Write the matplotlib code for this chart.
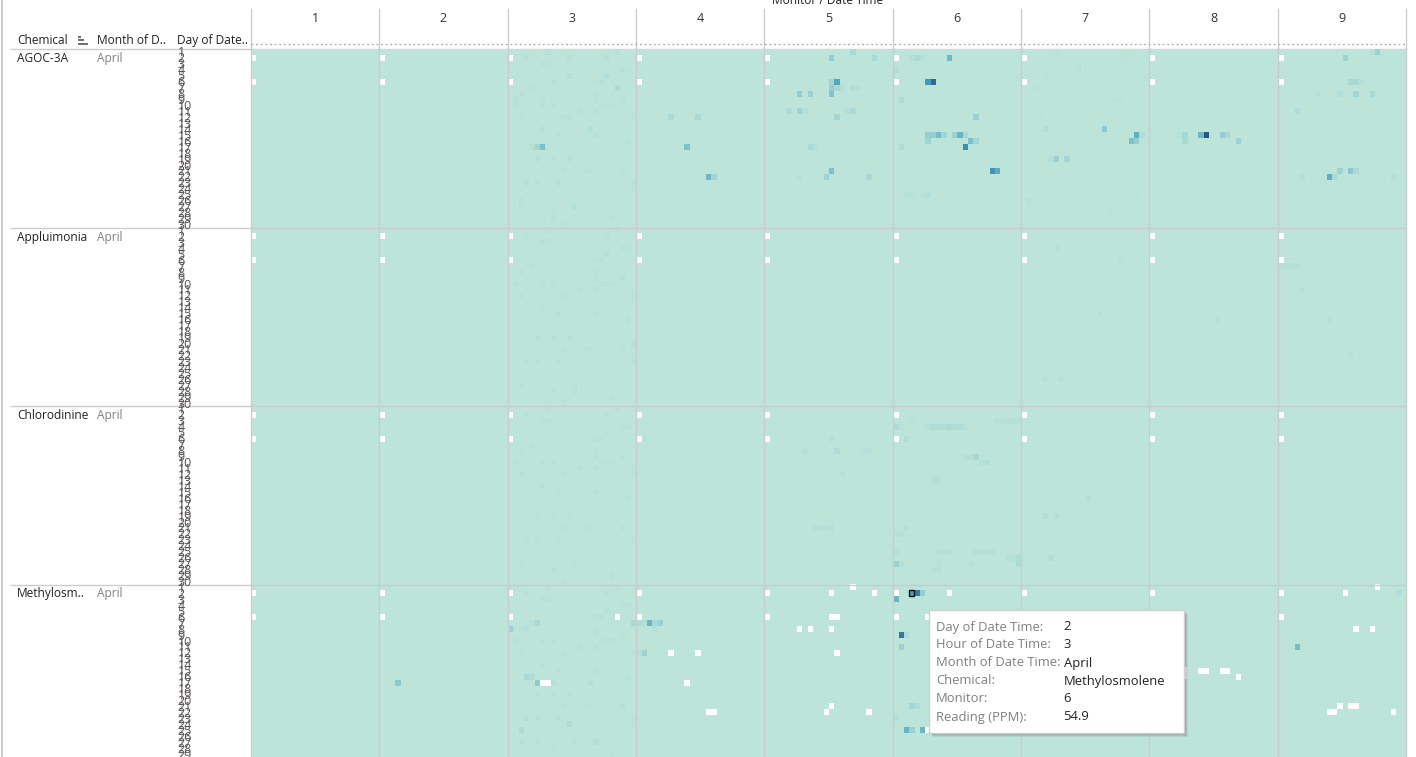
import numpy as np
import matplotlib
matplotlib.use("Agg")
import matplotlib.pyplot as plt
from matplotlib.colors import LinearSegmentedColormap, Normalize
from matplotlib.patches import Rectangle

plt.rcParams['font.family'] = ['Open Sans', 'DejaVu Sans']

W, H = 1416, 757

chemicals = ["AGOC-3A", "Appluimonia", "Chlorodinine", "Methylosm.."]
monitors = [1, 2, 3, 4, 5, 6, 7, 8, 9]
days = list(range(1, 31))
n_hours = 24

# (monitor, day, hour, reading), everything else is about 0
agoc_cells = [
    (3, 17, 4, 8), (3, 17, 5, 20), (3, 17, 6, 35), (3, 2, 11, 10), (3, 5, 11, 10), (3, 5, 18, 10),
    (3, 7, 20, 12), (3, 14, 15, 10), (3, 27, 12, 10), (3, 1, 7, 5), (3, 1, 20, 6), (3, 3, 6, 4),
    (3, 6, 8, 6), (3, 9, 1, 5), (3, 9, 6, 4), (3, 12, 11, 5), (3, 14, 6, 6), (3, 15, 16, 5),
    (3, 19, 5, 5), (3, 19, 11, 6), (3, 23, 3, 6), (3, 23, 9, 6), (3, 26, 2, 6), (3, 29, 8, 5),
    (4, 12, 6, 13), (4, 12, 11, 15), (4, 17, 9, 35), (4, 22, 13, 40), (4, 22, 14, 18),
    (5, 2, 12, 25), (5, 1, 16, 15), (5, 2, 20, 15), (5, 6, 12, 18), (5, 6, 13, 50),
    (5, 7, 12, 25), (5, 7, 13, 15), (5, 7, 14, 8), (5, 7, 16, 10), (5, 7, 17, 10),
    (5, 8, 6, 25), (5, 8, 8, 22), (5, 8, 12, 33),
    (5, 11, 4, 12), (5, 11, 6, 20), (5, 11, 7, 10), (5, 11, 15, 10), (5, 11, 16, 14),
    (5, 12, 13, 18), (5, 17, 8, 14), (5, 17, 9, 8), (5, 21, 12, 35),
    (5, 22, 6, 6), (5, 22, 11, 20), (5, 22, 19, 15),
    (6, 2, 3, 8), (6, 2, 4, 14), (6, 2, 5, 8), (6, 2, 10, 40), (6, 4, 0, 8),
    (6, 6, 6, 58), (6, 6, 7, 78), (6, 9, 1, 12), (6, 12, 15, 22),
    (6, 15, 6, 25), (6, 15, 7, 25), (6, 15, 8, 38), (6, 15, 9, 18), (6, 15, 11, 22),
    (6, 15, 12, 42), (6, 15, 13, 15), (6, 16, 6, 20), (6, 16, 14, 35), (6, 16, 15, 18),
    (6, 17, 1, 12), (6, 17, 13, 62), (6, 21, 18, 60), (6, 21, 19, 48),
    (6, 25, 2, 6), (6, 25, 3, 6), (6, 25, 5, 6), (6, 25, 6, 10),
    (7, 14, 4, 10), (7, 14, 15, 30), (7, 15, 21, 45), (7, 15, 22, 12),
    (7, 16, 20, 35), (7, 16, 21, 25), (7, 19, 5, 8), (7, 19, 6, 22), (7, 19, 8, 18),
    (7, 4, 10, 5), (7, 26, 1, 6),
    (8, 15, 5, 6), (8, 15, 6, 16), (8, 15, 9, 40), (8, 15, 10, 85), (8, 15, 13, 25), (8, 15, 14, 15),
    (8, 16, 6, 16), (8, 16, 16, 20),
    (9, 1, 17, 8), (9, 1, 18, 22), (9, 2, 12, 20), (9, 6, 13, 15), (9, 6, 14, 15), (9, 6, 15, 6),
    (9, 8, 7, 6), (9, 8, 11, 10), (9, 8, 14, 18), (9, 8, 17, 15), (9, 11, 3, 12),
    (9, 21, 11, 20), (9, 21, 13, 30), (9, 21, 14, 15),
    (9, 22, 4, 8), (9, 22, 9, 45), (9, 22, 10, 15), (9, 22, 21, 8),
]
appl_cells = [
    (9, 7, 0, 5), (9, 7, 1, 8), (9, 7, 2, 8), (9, 7, 3, 5), (9, 11, 4, 6), (9, 16, 9, 6), (9, 22, 13, 6),
    (8, 16, 12, 6), (7, 6, 18, 6), (7, 4, 6, 5), (7, 26, 7, 6), (7, 26, 4, 5), (7, 15, 14, 5),
    (3, 20, 23, 5), (3, 28, 12, 5),
]
chloro_cells = [
    (5, 6, 12, 8), (5, 8, 7, 8), (5, 8, 13, 12), (5, 8, 18, 5), (5, 8, 19, 5), (5, 12, 14, 6),
    (5, 21, 9, 5), (5, 21, 10, 9), (5, 21, 11, 4), (5, 21, 12, 8),
    (6, 3, 3, 6), (6, 3, 19, 6), (6, 3, 20, 6), (6, 3, 21, 8), (6, 3, 22, 10), (6, 3, 23, 8),
    (6, 4, 0, 12), (6, 4, 1, 4), (6, 4, 6, 8), (6, 4, 7, 12), (6, 4, 8, 12), (6, 4, 9, 12),
    (6, 4, 10, 14), (6, 4, 11, 12), (6, 4, 12, 12), (6, 4, 13, 5), (6, 6, 2, 10),
    (6, 9, 13, 5), (6, 9, 14, 10), (6, 9, 15, 16), (6, 10, 16, 9), (6, 10, 17, 9),
    (6, 13, 7, 6), (6, 13, 8, 6), (6, 21, 2, 10), (6, 22, 0, 6), (6, 22, 1, 10),
    (6, 25, 0, 8), (6, 25, 8, 6), (6, 25, 9, 6), (6, 25, 10, 10),
    (6, 25, 15, 8), (6, 25, 16, 8), (6, 25, 17, 8), (6, 25, 18, 8),
    (6, 26, 21, 8), (6, 26, 22, 4), (6, 26, 23, 12),
    (6, 27, 0, 22), (6, 27, 1, 8), (6, 27, 8, 5), (6, 27, 14, 6), (6, 27, 23, 12),
    (6, 28, 7, 8), (6, 28, 8, 5),
    (7, 26, 5, 10), (7, 19, 4, 7), (7, 19, 6, 7), (7, 16, 12, 7),
    (4, 6, 0, 6), (4, 6, 1, 4),
]
methyl_cells = [
    (2, 17, 3, 30),
    (3, 7, 5, 15), (3, 8, 0, 22), (3, 8, 3, 10), (3, 16, 3, 15), (3, 16, 4, 12),
    (3, 17, 5, 28), (3, 17, 8, 8), (3, 17, 15, 10), (3, 24, 11, 12), (3, 25, 2, 12),
    (3, 27, 16, 10), (3, 27, 5, 8), (3, 27, 12, 8), (3, 7, 23, 15),
    (4, 7, 0, 12), (4, 7, 1, 10), (4, 7, 2, 42), (4, 7, 3, 15), (4, 7, 4, 22), (4, 8, 3, 8),
    (4, 12, 0, 8), (4, 12, 1, 20),
    (6, 2, 3, 54.9), (6, 2, 4, 70), (6, 2, 5, 25), (6, 3, 0, 42),
    (6, 9, 1, 72), (6, 9, 2, 12), (6, 11, 1, 22), (6, 21, 3, 18), (6, 21, 4, 12), (6, 23, 0, 8),
    (6, 25, 2, 42), (6, 25, 3, 22), (6, 25, 5, 42),
    (9, 2, 22, 10), (9, 11, 3, 38),
]

# faint speckle of monitor 3, seen in all chemicals (day, hour)
monitor3_faint = [
    (1, 7), (1, 20), (2, 3), (2, 18), (3, 6), (3, 7), (4, 21), (4, 22), (5, 18), (6, 16), (6, 17),
    (7, 4), (8, 2), (8, 16), (9, 16), (9, 21), (10, 1), (10, 6), (10, 8), (10, 17), (10, 18), (10, 19),
    (11, 13), (11, 16), (12, 2), (12, 10), (12, 23), (14, 6), (15, 9), (15, 16), (16, 22),
    (19, 5), (19, 8), (19, 11), (21, 10), (21, 14), (21, 15), (21, 21), (23, 3), (23, 5), (23, 9), (23, 23),
    (27, 2), (27, 12), (28, 8), (29, 19), (30, 10),
]
# faint speckle of monitor 7 in AGOC-3A (day, hour)
monitor7_faint = [
    (1, 6), (2, 19), (3, 10), (5, 4), (6, 6), (7, 2), (9, 17), (9, 18), (12, 3),
    (22, 18), (25, 21), (27, 1), (28, 16),
]
faint_level = 4

# readings that are absent in every chemical and monitor
missing_everywhere = [(2, 0), (6, 0)]
# (monitor, day, hour) of the extra blanks in Methylosmolene
methyl_missing = [
    (3, 6, 20), (3, 17, 6), (3, 17, 7),
    (4, 12, 6), (4, 12, 11), (4, 17, 9), (4, 22, 13), (4, 22, 14),
    (5, 1, 16), (5, 2, 12), (5, 2, 20), (5, 6, 12), (5, 6, 13), (5, 8, 6), (5, 8, 8), (5, 8, 12),
    (5, 12, 13), (5, 21, 12), (5, 22, 11), (5, 22, 19),
    (6, 2, 10), (6, 6, 6), (6, 25, 6),
    (8, 15, 9), (8, 15, 10), (8, 15, 13), (8, 15, 14), (8, 16, 16),
    (9, 1, 18), (9, 2, 12), (9, 8, 14), (9, 8, 17), (9, 21, 11), (9, 21, 13), (9, 21, 14),
    (9, 22, 9), (9, 22, 10), (9, 22, 21),
]

tooltip_labels = ["Day of Date Time:", "Hour of Date Time:", "Month of Date Time:", "Chemical:", "Monitor:", "Reading (PPM):"]
tooltip_values = ["2", "3", "April", "Methylosmolene", "6", "54.9"]

# tableau blue-teal
cmap = LinearSegmentedColormap.from_list(
    "blue_teal", [(0, "#BCE4D9"), (0.12, "#B2DFD7"), (0.35, "#8CC9D0"), (0.65, "#45A0BA"), (1, "#2A5788")])
cmap.set_bad("white")

n_days = len(days)
grid = np.zeros((len(chemicals) * n_days, len(monitors) * n_hours))
for c, cells in enumerate([agoc_cells, appl_cells, chloro_cells, methyl_cells]):
    for d, h in monitor3_faint:
        grid[c * n_days + d - 1, 2 * n_hours + h] = faint_level
    for m, d, h, v in cells:
        grid[c * n_days + d - 1, (m - 1) * n_hours + h] = v
    for m in range(len(monitors)):
        for d, h in missing_everywhere:
            grid[c * n_days + d - 1, m * n_hours + h] = np.nan
for d, h in monitor7_faint:
    grid[d - 1, 6 * n_hours + h] = max(grid[d - 1, 6 * n_hours + h], 3)
for m, d, h in methyl_missing:
    grid[3 * n_days + d - 1, (m - 1) * n_hours + h] = np.nan

fig = plt.figure(figsize=(W / 100, H / 100), dpi=100, facecolor="white")

# overlay in pixel coordinates for the Tableau-style headers
bg = fig.add_axes([0, 0, 1, 1])
bg.set_xlim(0, W)
bg.set_ylim(H, 0)
bg.axis("off")

left, right, top = 251, 1406, 49
row_h = 5.95
ax = fig.add_axes([left / W, 0, (right - left) / W, (H - top) / H])
ax.imshow(grid, cmap=cmap, norm=Normalize(0, 85), aspect="auto", interpolation="nearest",
          extent=(0, grid.shape[1], grid.shape[0], 0))
ax.set_xlim(0, grid.shape[1])
ax.set_ylim((H - top) / row_h, 0)
ax.axis("off")

# monitor and chemical separators
for m in range(len(monitors) + 1):
    ax.axvline(m * n_hours, color="#cccccc", lw=1, clip_on=False)
    px = left + m * (right - left) / len(monitors)
    bg.plot([px, px], [9, top], color="#cccccc", lw=1)
for c in range(1, len(chemicals)):
    ax.axhline(c * n_days, color="#cccccc", lw=1)

bg.plot([11, right], [top, top], color="#cccccc", lw=1)
bg.plot([left, right], [43.5, 43.5], color="#aaaaaa", lw=0.9, ls=(0, (1.5, 2.2)))
bg.plot([1.5, 1.5], [0, H], color="#c4c4c4", lw=1.2)

txt_dark = "#222222"
txt_grey = "#808080"
fs = 8.6

bg.text(828, 0, "Monitor / Date Time", ha="center", va="center", fontsize=fs, color=txt_dark)
for i, m in enumerate(monitors):
    bg.text(left + (i + 0.5) * (right - left) / len(monitors), 19, str(m),
            ha="center", va="center", fontsize=9, color="#333333")

bg.text(17, 40.5, "Chemical", va="center", fontsize=fs, color=txt_dark)
bg.text(97, 40.5, "Month of D..", va="center", fontsize=fs, color=txt_dark)
bg.text(177, 40.5, "Day of Date..", va="center", fontsize=fs, color=txt_dark)
# sort icon
for w, y in zip([3, 6, 10], [36.5, 40, 43.5]):
    bg.plot([78, 78 + w], [y, y], color="#555555", lw=1.2, solid_capstyle="butt")

for c, name in enumerate(chemicals):
    y0 = top + c * n_days * row_h
    if c > 0:
        bg.plot([11, left], [y0, y0], color="#cccccc", lw=1)
    bg.text(17, y0 + 9.5, name, va="center", fontsize=fs, color=txt_dark)
    bg.text(97, y0 + 9.5, "April", va="center", fontsize=fs, color=txt_grey)
    for d in days:
        yd = y0 + (d - 0.5) * row_h + 1
        if yd > H:
            break
        bg.text(177.5, yd, str(d), va="center", fontsize=9, color="#555555")
    bg.plot([180.8, 180.8], [y0 + 2, min(y0 + n_days * row_h, H)], color="#e8b78e", lw=0.9, alpha=0.7)

# selected mark
sel_row = 3 * n_days + 1
sel_col = 5 * n_hours + 3
ax.add_patch(Rectangle((sel_col, sel_row), 1, 1, fill=False, ec="#111111", lw=1, zorder=5))

# tooltip
tip = fig.add_axes([0, 0, 1, 1], facecolor="none")
tip.set_xlim(0, W)
tip.set_ylim(H, 0)
tip.axis("off")
for off, alpha in [(4, 0.10), (3, 0.14), (2, 0.2)]:
    tip.add_patch(Rectangle((929 + off, 610 + off), 255, 123, fc="#555555", ec="none", alpha=alpha))
tip.add_patch(Rectangle((929, 610), 255, 123, fc="white", ec="#cfcfcf", lw=1))
tip.add_patch(Rectangle((1185, 667), 2.5, 12, fc="#cccccc", ec="none"))
for i, (k, v) in enumerate(zip(tooltip_labels, tooltip_values)):
    y = 627 + i * 18
    tip.text(936, y, k, va="center", fontsize=9.4, color=txt_grey)
    tip.text(1063.5, y, v, va="center", fontsize=9.4, color=txt_dark)

fig.savefig("out.png", dpi=100)
